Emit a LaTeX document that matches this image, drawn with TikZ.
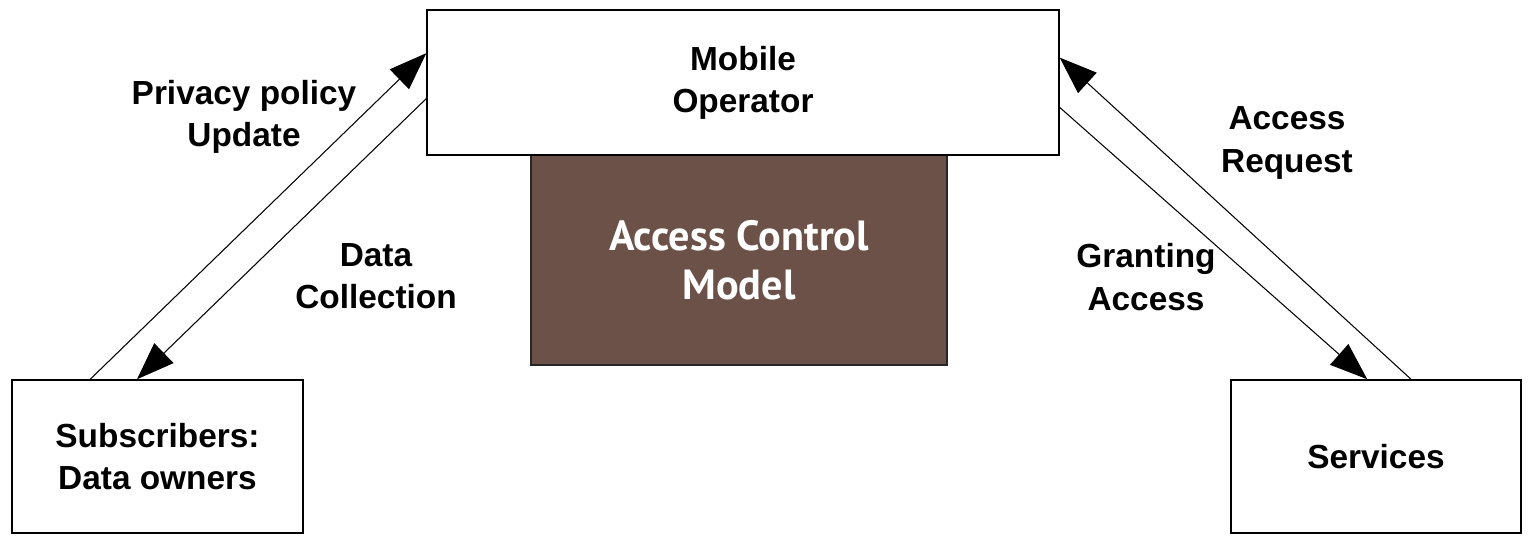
\documentclass[tikz,border=0pt]{standalone}
\usepackage{fontspec}
\setmainfont{Liberation Sans}
\newfontfamily\acmfont{PT Sans}
\usepackage{xcolor}
\usetikzlibrary{arrows.meta, positioning, calc}
\definecolor{acmbrown}{RGB}{108,81,72}

\begin{document}
\begin{tikzpicture}[
  x=0.02cm, y=-0.02cm,
  every node/.style={font=\fontsize{19}{24}\selectfont\bfseries, align=center},
  box/.style={rectangle, draw, line width=0.9pt, fill=white, inner sep=0pt},
  acm/.style={rectangle, draw=black!85, line width=0.9pt, fill=acmbrown,
              text=white, inner sep=0pt,
              font=\acmfont\fontsize{24}{28}\selectfont\bfseries},
  lbl/.style={inner sep=0pt},
  arr/.style={-{Triangle[length=0.75cm, width=0.55cm]}, line width=0.6pt, black},
]
\useasboundingbox (0,0) rectangle (1528,535);

\node[acm, minimum width=8.32cm, minimum height=4.2cm] (acm) at (739,260)
  {Access Control\\Model};
\node[box, minimum width=12.64cm, minimum height=2.9cm] (mo) at (743,82.5)
  {Mobile\\Operator};
\node[box, minimum width=5.82cm, minimum height=3.06cm] (sub) at (157.5,456.5)
  {Subscribers:\\Data owners};
\node[box, minimum width=5.8cm, minimum height=3.06cm] (srv) at (1376,456.5)
  {Services};

\node[lbl] (ppu) at (244,117) {Privacy policy\\Update};
\node[lbl] (dc)  at (376,276) {Data\\Collection};
\node[lbl] (ar)  at (1287,143) {Access\\Request};
\node[lbl] (ga)  at (1146,277) {Granting\\Access};

% subscribers <-> operator
\draw[arr] ($(sub.north west)!0.27!(sub.north east)$) -- ($(mo.north west)!0.30!(mo.south west)$);
\draw[arr] ($(mo.north west)!0.61!(mo.south west)$) -- ($(sub.north west)!0.43!(sub.north east)$);
% services <-> operator
\draw[arr] ($(srv.north west)!0.62!(srv.north east)$) -- ($(mo.north east)!0.33!(mo.south east)$);
\draw[arr] ($(mo.north east)!0.67!(mo.south east)$) -- ($(srv.north west)!0.47!(srv.north east)$);
\end{tikzpicture}
\end{document}
